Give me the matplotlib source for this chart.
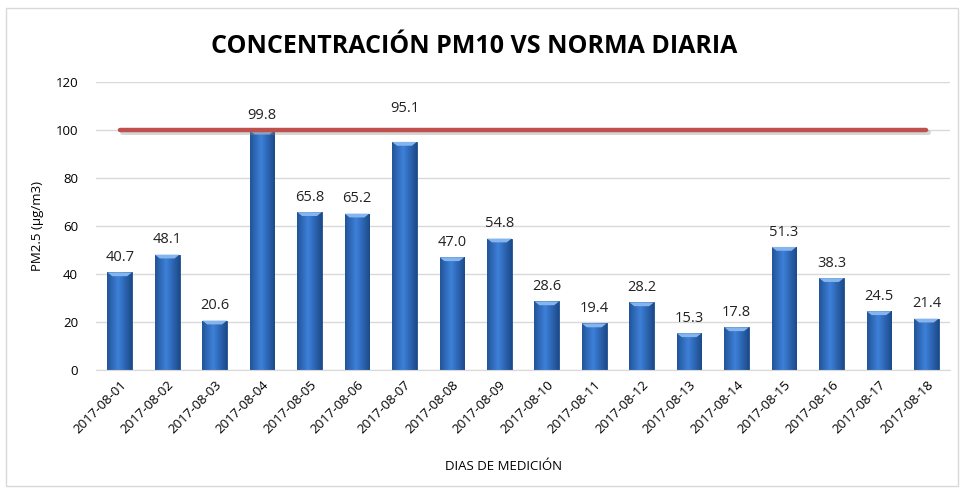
import numpy as np
import matplotlib
matplotlib.use("Agg")
import matplotlib.pyplot as plt
import matplotlib.transforms as mtransforms
from matplotlib.patches import Rectangle

fechas = ["2017-08-01", "2017-08-02", "2017-08-03", "2017-08-04", "2017-08-05",
          "2017-08-06", "2017-08-07", "2017-08-08", "2017-08-09", "2017-08-10",
          "2017-08-11", "2017-08-12", "2017-08-13", "2017-08-14", "2017-08-15",
          "2017-08-16", "2017-08-17", "2017-08-18"]
pm = [40.7, 48.1, 20.6, 99.8, 65.8, 65.2, 95.1, 47.0, 54.8, 28.6,
      19.4, 28.2, 15.3, 17.8, 51.3, 38.3, 24.5, 21.4]
norma = [100] * len(fechas)

plt.rcParams["font.family"] = ["Open Sans", "DejaVu Sans"]

fig = plt.figure(figsize=(9.64, 4.92), dpi=100)
# chart frame
fig.patches.append(Rectangle((0.006, 0.012), 0.988, 0.972, transform=fig.transFigure,
                             fill=False, edgecolor="#d9d9d9", linewidth=1.0))
ax = fig.add_axes([0.0996, 0.248, 0.886, 0.585])

x = np.arange(len(fechas))
bars = ax.bar(x, pm, width=0.52, color="#2F6DBF", edgecolor="#1F4E8C", linewidth=0.6, zorder=2)

# horizontal gradient to mimic the bevelled bars
grad = np.linspace(0, 1, 64)
grad = 1 - np.abs(grad - 0.45) * 1.5
cmap = matplotlib.colors.LinearSegmentedColormap.from_list("b", ["#1C4A8A", "#3D80D8"])
for b in bars:
    im = ax.imshow(grad[None, :], cmap=cmap, aspect="auto", zorder=2.5,
                   extent=[b.get_x(), b.get_x() + b.get_width(), 0, b.get_height()])
    im.set_clip_path(b)
    top = b.get_height()
    w = b.get_width()
    ax.fill([b.get_x(), b.get_x() + w, b.get_x() + w * 0.8, b.get_x() + w * 0.2],
            [top, top, top - 1.6, top - 1.6], color="#85B5EC", zorder=2.7, lw=0)

for xi, v in zip(x, pm):
    off = 11 if v == 95.1 else 3
    ax.text(xi, v + off, f"{v:.1f}", ha="center", va="bottom", fontsize=10.5,
            color="#222222", zorder=5)

# norma diaria with soft shadow
ax.plot(x + 0.04, np.array(norma) - 0.8, color="#888888", alpha=0.35, linewidth=3.5,
        solid_capstyle="round", zorder=3)
ax.plot(x, norma, color="#C0504D", linewidth=3.2, solid_capstyle="round", zorder=4)

ax.set_xlim(-0.5, len(fechas) - 0.5)
ax.set_ylim(0, 120)
ax.set_yticks(range(0, 121, 20))
ax.set_xticks(x)
ax.set_xticklabels(fechas, rotation=45, ha="right", rotation_mode="anchor", fontsize=9.5)
shift = mtransforms.ScaledTranslation(6 / 72, -4 / 72, fig.dpi_scale_trans)
for lbl in ax.get_xticklabels():
    lbl.set_transform(lbl.get_transform() + shift)
ax.tick_params(axis="y", labelsize=9.5, length=0, pad=13)
ax.tick_params(axis="x", length=0, pad=6)
ax.grid(axis="y", color="#d9d9d9", linewidth=1.0, zorder=0)
for s in ["top", "right", "left"]:
    ax.spines[s].set_visible(False)
ax.spines["bottom"].set_color("#d9d9d9")

ax.set_ylabel("PM2.5 (µg/m3)", fontsize=9.5, labelpad=8)
fig.text(0.522, 0.045, "DIAS DE MEDICIÓN", ha="center", fontsize=9.5)
fig.text(0.492, 0.905, "CONCENTRACIÓN PM10 VS NORMA DIARIA", ha="center", va="center",
         fontsize=18, fontweight="bold")

fig.savefig("out.png", dpi=100)
